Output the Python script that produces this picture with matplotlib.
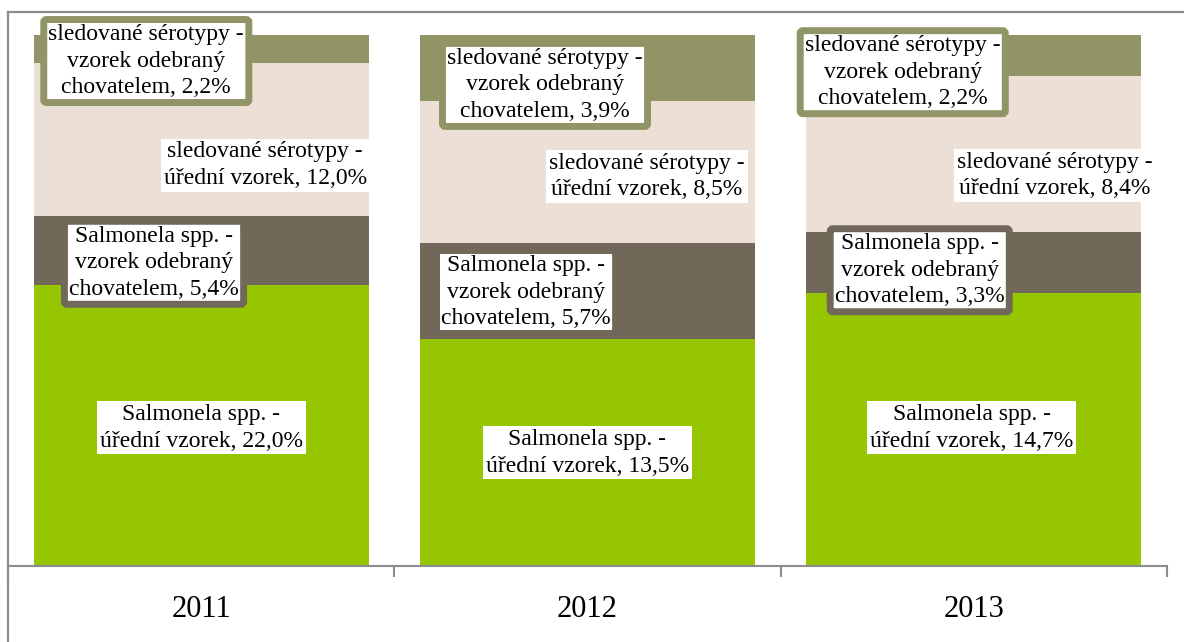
import matplotlib
matplotlib.use("Agg")
import matplotlib.pyplot as plt
from matplotlib.lines import Line2D
import numpy as np

# data
years = ["2011", "2012", "2013"]
salm_uredni = [22.0, 13.5, 14.7]
salm_chov = [5.4, 5.7, 3.3]
sero_uredni = [12.0, 8.5, 8.4]
sero_chov = [2.2, 3.9, 2.2]

series = [salm_uredni, salm_chov, sero_uredni, sero_chov]
colors = ["#95c600", "#72685a", "#ece0d6", "#919466"]
names = ["Salmonela spp. -\núřední vzorek",
         "Salmonela spp. -\nvzorek odebraný\nchovatelem",
         "sledované sérotypy -\núřední vzorek",
         "sledované sérotypy -\nvzorek odebraný\nchovatelem"]

# label placement (x offset from bar centre, y as share of the bar)
lab_dx = [[0.00, -0.122, 0.166, -0.142],
          [0.00, -0.159, 0.154, -0.110],
          [-0.005, -0.140, 0.210, -0.184]]
lab_y = [[0.260, 0.571, 0.755, 0.951],
         [0.213, 0.516, 0.733, 0.906],
         [0.260, 0.557, 0.736, 0.930]]
edge = [None, "#72685a", None, "#919466"]

plt.rcParams['font.family'] = ['Liberation Serif', 'DejaVu Serif']

fig = plt.figure(figsize=(11.84, 6.42), dpi=100)
ax = fig.add_axes([8 / 1184, 76 / 642, 1159 / 1184, 531 / 642])

data = np.array(series)
totals = data.sum(axis=0)
shares = data / totals
x = np.arange(len(years))
bottom = np.zeros(len(years))
for s, c in zip(shares, colors):
    ax.bar(x, s, 0.867, bottom=bottom, color=c, linewidth=0)
    bottom += s

for i in range(len(years)):
    for k in range(4):
        txt = names[k] + ", " + ("%.1f" % series[k][i]).replace(".", ",") + "%"
        if edge[k]:
            bb = dict(boxstyle="round,pad=0.2,rounding_size=0.12", fc="white",
                      ec=edge[k], lw=5)
        else:
            bb = dict(boxstyle="square,pad=0.12", fc="white", ec="none")
        ax.text(x[i] + lab_dx[i][k], lab_y[i][k], txt, ha="center", va="center",
                multialignment="center", fontsize=17, linespacing=1.33,
                bbox=bb, clip_on=False, zorder=5)

ax.set_xlim(-0.5, 2.5)
ax.set_ylim(0, 1)
ax.set_yticks([])
for sp in ["left", "right", "top"]:
    ax.spines[sp].set_visible(False)
ax.spines["bottom"].set_color("#8c8c8c")
ax.spines["bottom"].set_linewidth(1.5)
ax.set_xticks(x)
ax.set_xticklabels(years, fontsize=22)
ax.tick_params(axis="x", which="major", length=0, pad=21)
ax.set_xticks([-0.5, 0.5, 1.5, 2.5], minor=True)
ax.tick_params(axis="x", which="minor", length=8, width=1.5, color="#8c8c8c")

# outer chart frame
fig.add_artist(Line2D([8 / 1184, 1], [630 / 642, 630 / 642], color="#8c8c8c", lw=1.6))
fig.add_artist(Line2D([8 / 1184, 8 / 1184], [0, 630 / 642], color="#8c8c8c", lw=1.6))

fig.savefig("out.png", dpi=100)
